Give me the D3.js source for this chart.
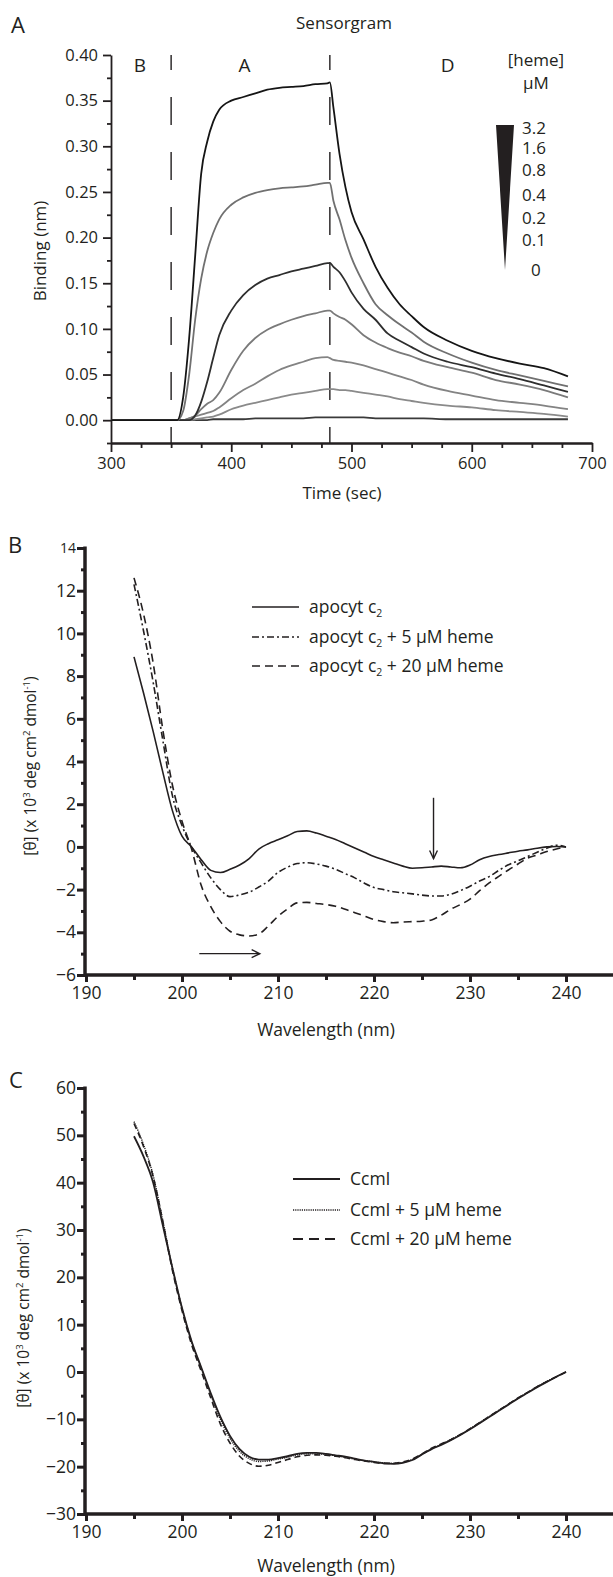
<!DOCTYPE html>
<html><head><meta charset="utf-8">
<script src="https://cdn.jsdelivr.net/npm/d3@7"></script>
<style>
body{margin:0;background:#fff;}
svg text{font-family:"Open Sans",sans-serif;fill:#231f20;}
</style></head>
<body><svg id="c" width="613" height="1577"></svg>
<script>
// ---------- Panel A data (sensorgram) ----------
const hemeLevels = ["3.2","1.6","0.8","0.4","0.2","0.1","0"];
const timeA = [300,355,360,365,370,375,380,385,390,400,410,420,430,440,450,460,470,480,482,485,490,495,500,510,520,530,540,550,560,580,600,620,640,660,680];
const bind32 = [0,0,0.025,0.09,0.18,0.27,0.305,0.327,0.34,0.35,0.354,0.358,0.362,0.364,0.365,0.366,0.368,0.369,0.37,0.342,0.292,0.255,0.228,0.198,0.168,0.145,0.127,0.114,0.102,0.087,0.076,0.068,0.062,0.057,0.048];
const bind16 = [0,0,0.01,0.05,0.11,0.155,0.185,0.205,0.22,0.236,0.244,0.249,0.252,0.254,0.255,0.256,0.258,0.26,0.26,0.24,0.22,0.197,0.178,0.15,0.127,0.115,0.105,0.096,0.086,0.073,0.063,0.055,0.049,0.043,0.037];
const bind08 = [0,0,0,0,0.005,0.02,0.042,0.068,0.093,0.12,0.137,0.148,0.155,0.159,0.163,0.166,0.169,0.172,0.172,0.168,0.162,0.152,0.14,0.122,0.11,0.095,0.087,0.08,0.073,0.064,0.058,0.051,0.045,0.038,0.031];
const bind04 = [0,0,0,0.002,0.005,0.012,0.018,0.022,0.03,0.055,0.076,0.09,0.099,0.105,0.11,0.114,0.117,0.12,0.12,0.117,0.113,0.11,0.105,0.093,0.085,0.079,0.074,0.07,0.065,0.058,0.052,0.044,0.039,0.033,0.025];
const bind02 = [0,0,0,0.002,0.004,0.006,0.008,0.01,0.014,0.024,0.033,0.04,0.048,0.055,0.06,0.064,0.068,0.069,0.068,0.066,0.065,0.064,0.063,0.06,0.056,0.052,0.048,0.044,0.039,0.032,0.027,0.022,0.019,0.016,0.012];
const bind01 = [0,0,0,0,0.001,0.002,0.003,0.004,0.006,0.012,0.016,0.019,0.022,0.025,0.028,0.03,0.032,0.034,0.034,0.034,0.033,0.033,0.032,0.03,0.028,0.026,0.023,0.021,0.019,0.016,0.014,0.011,0.009,0.007,0.004];
const bind00 = [0,0,0,0,0,0,0,0.001,0.001,0.001,0.001,0.002,0.002,0.002,0.002,0.002,0.003,0.003,0.003,0.003,0.003,0.003,0.003,0.003,0.002,0.002,0.002,0.002,0.002,0.001,0.001,0.001,0.001,0.001,0.001];
const phaseLabels = ["B","A","D"];
const phaseTimes = [324,411,580];
const phaseBounds = [350,482];
const xTicksA = [300,400,500,600,700];
const yTicksA = [0,0.05,0.1,0.15,0.2,0.25,0.3,0.35,0.4];

// ---------- Panel B data (CD apocyt c2) ----------
const wl = [195,196,197,198,199,200,201,202,203,204,205,206,207,208,209,210,211,212,213,214,215,216,217,218,219,220,221,222,223,224,225,226,227,228,229,230,231,232,233,234,235,236,237,238,239,240];
const apo = [8.9,7.2,5.4,3.5,1.7,0.5,0.0,-0.6,-1.1,-1.2,-1.05,-0.85,-0.55,-0.1,0.15,0.33,0.52,0.72,0.75,0.65,0.5,0.35,0.15,-0.05,-0.25,-0.45,-0.6,-0.75,-0.9,-1.0,-0.98,-0.94,-0.9,-0.94,-0.98,-0.85,-0.6,-0.45,-0.36,-0.28,-0.2,-0.14,-0.06,0.0,0.02,0.0];
const apo5 = [12.3,10.1,7.7,5.0,2.4,1.0,0.0,-0.75,-1.45,-2.0,-2.33,-2.25,-2.12,-1.88,-1.6,-1.2,-0.95,-0.78,-0.74,-0.8,-0.9,-1.05,-1.25,-1.45,-1.7,-1.9,-2.0,-2.1,-2.15,-2.2,-2.26,-2.3,-2.3,-2.22,-2.05,-1.84,-1.6,-1.39,-1.1,-0.84,-0.65,-0.45,-0.25,-0.06,0.08,0.0];
const apo20 = [12.6,10.9,8.6,5.5,2.9,1.2,-0.1,-1.8,-2.8,-3.5,-3.95,-4.12,-4.17,-4.08,-3.7,-3.25,-2.9,-2.62,-2.6,-2.65,-2.7,-2.78,-2.92,-3.08,-3.24,-3.4,-3.5,-3.55,-3.52,-3.5,-3.48,-3.42,-3.2,-2.92,-2.7,-2.45,-2.05,-1.69,-1.38,-1.08,-0.8,-0.53,-0.38,-0.22,-0.1,0.0];
const legendB = ["", " + 5 μM heme", " + 20 μM heme"];
const yTicksB = [-6,-4,-2,0,2,4,6,8,10,12,14];
const xTicksCD = [190,200,210,220,230,240];

// ---------- Panel C data (CD CcmI) ----------
const ccm = [49.8,45.5,40.0,31.0,22.0,13.5,6.5,1.0,-4.5,-9.5,-13.5,-16.3,-17.9,-18.5,-18.5,-18.2,-17.8,-17.3,-17.1,-17.1,-17.3,-17.6,-17.9,-18.3,-18.7,-19.0,-19.3,-19.4,-19.2,-18.6,-17.4,-16.3,-15.4,-14.4,-13.3,-12.1,-10.8,-9.5,-8.2,-6.9,-5.6,-4.4,-3.2,-2.1,-1.0,0.0];
const ccm5 = [52.9,48.0,41.5,32.0,22.0,13.5,6.3,0.8,-4.8,-10.0,-14.0,-16.8,-18.3,-18.9,-18.8,-18.4,-18.0,-17.5,-17.3,-17.3,-17.4,-17.7,-18.0,-18.4,-18.7,-19.0,-19.2,-19.3,-19.1,-18.5,-17.4,-16.2,-15.3,-14.3,-13.2,-12.0,-10.7,-9.4,-8.1,-6.8,-5.5,-4.3,-3.1,-2.0,-1.0,0.0];
const ccm20 = [52.5,47.6,41.2,31.8,21.5,13.0,5.8,0.2,-5.5,-11.0,-15.0,-17.8,-19.3,-19.9,-19.7,-19.1,-18.5,-17.9,-17.6,-17.5,-17.6,-17.8,-18.1,-18.5,-18.8,-19.1,-19.3,-19.3,-19.0,-18.4,-17.3,-16.1,-15.2,-14.3,-13.2,-12.0,-10.7,-9.4,-8.1,-6.8,-5.5,-4.3,-3.1,-2.0,-1.0,0.0];
const legendC = ["CcmI", "CcmI + 5 μM heme", "CcmI + 20 μM heme"];
const yTicksC = [-30,-20,-10,0,10,20,30,40,50,60];

const svg = d3.select("#c");
const ink = "#231f20";

// ================= PANEL A =================
const xA = d3.scaleLinear().domain([300,700]).range([111,592]);
const yA = d3.scaleLinear().domain([-0.025,0.40]).range([443,55]);

svg.append("text").attr("x",11).attr("y",33).attr("font-size",22).text("A");
svg.append("text").attr("x",344).attr("y",29).attr("font-size",17).attr("text-anchor","middle").text("Sensorgram");

function styleAxis(g, w){
  g.selectAll("path.domain").attr("stroke",ink).attr("stroke-width",w);
  g.selectAll(".tick line").attr("stroke",ink).attr("stroke-width",w);
}
// x axis A
const gxA = svg.append("g").attr("transform","translate(0,443)")
  .call(d3.axisBottom(xA).tickValues(xTicksA).tickSize(9).tickPadding(5).tickSizeOuter(0));
styleAxis(gxA,1.8);
gxA.selectAll("text").attr("font-size",16.5).attr("fill",ink).style("font-family","'Open Sans',sans-serif");
const gxAm = svg.append("g").attr("transform","translate(0,443)")
  .call(d3.axisBottom(xA).tickValues(d3.range(325,700,25).filter(v=>v%100!==0)).tickSize(5).tickFormat("").tickSizeOuter(0));
styleAxis(gxAm,1.8);
// y axis A
const gyA = svg.append("g").attr("transform","translate(111,0)")
  .call(d3.axisLeft(yA).tickValues(yTicksA).tickSize(8).tickPadding(5).tickFormat(d3.format(".2f")).tickSizeOuter(0));
styleAxis(gyA,1.8);
gyA.selectAll("text").attr("font-size",16.5).attr("fill",ink).style("font-family","'Open Sans',sans-serif");
const gyAm = svg.append("g").attr("transform","translate(111,0)")
  .call(d3.axisLeft(yA).tickValues([-0.025,0.025,0.075,0.125,0.175,0.225,0.275,0.325,0.375]).tickSize(4).tickFormat("").tickSizeOuter(0));
styleAxis(gyAm,1.8);
gyAm.select("path.domain").remove();

svg.append("text").attr("transform","translate(46,251) rotate(-90)").attr("font-size",17).attr("text-anchor","middle").text("Binding (nm)");
svg.append("text").attr("x",342).attr("y",499).attr("font-size",17).attr("text-anchor","middle").text("Time (sec)");

// phase boundaries
phaseBounds.forEach(t=>{
  svg.append("line").attr("x1",xA(t)).attr("x2",xA(t)).attr("y1",55).attr("y2",443)
    .attr("stroke",ink).attr("stroke-width",1.4).attr("stroke-dasharray","28,27").attr("stroke-dashoffset",13);
});
phaseLabels.forEach((l,i)=>{
  svg.append("text").attr("x",xA(phaseTimes[i])).attr("y",72).attr("font-size",19).attr("text-anchor","middle").text(l);
});

const seriesA = [bind00,bind01,bind02,bind04,bind08,bind16,bind32];
const colA = ["#3a3a3a","#8a8a8a","#838383","#7a7a7a","#2e2e2e","#707070","#151515"];
const lineA = d3.line().x((d,i)=>xA(timeA[i])).y(d=>yA(d)).curve(d3.curveMonotoneX);
seriesA.forEach((s,k)=>{
  svg.append("path").attr("d",lineA(s)).attr("fill","none").attr("stroke",colA[k]).attr("stroke-width",1.8);
});

// legend A
svg.append("text").attr("x",536).attr("y",66).attr("font-size",17).attr("text-anchor","middle").text("[heme]");
svg.append("text").attr("x",536).attr("y",89).attr("font-size",17).attr("text-anchor","middle").text("μM");
svg.append("polygon").attr("points","496,125 514,125 505,270").attr("fill","#231f20");
const legY = [128,148,170,195,218,240,270];
hemeLevels.forEach((h,i)=>{
  svg.append("text").attr("x", h==="0"?531:522).attr("y",legY[i]+6).attr("font-size",17).text(h);
});

// ================= CD panels helper =================
function cdAxes(x, y, yTicks, yMinor, yTop, xTitleY){
  const y0 = y.range()[0];
  const gx = svg.append("g").attr("transform",`translate(0,${y0})`)
    .call(d3.axisBottom(x).tickValues(xTicksCD).tickSize(7).tickPadding(5).tickSizeOuter(0));
  gx.select("path.domain").remove();
  gx.selectAll(".tick line").attr("stroke",ink).attr("stroke-width",3);
  gx.selectAll("text").attr("font-size",17.5).attr("fill",ink).style("font-family","'Open Sans',sans-serif");
  const gxm = svg.append("g").attr("transform",`translate(0,${y0})`)
    .call(d3.axisBottom(x).tickValues(d3.range(195,246,10)).tickSize(5).tickFormat("").tickSizeOuter(0));
  gxm.select("path.domain").remove();
  gxm.selectAll(".tick line").attr("stroke",ink).attr("stroke-width",3);
  svg.append("line").attr("x1",x(190)-2).attr("x2",613).attr("y1",y0).attr("y2",y0).attr("stroke",ink).attr("stroke-width",3.5);
  const gy = svg.append("g").attr("transform",`translate(${x(190)-1},0)`)
    .call(d3.axisLeft(y).tickValues(yTicks).tickSize(8).tickPadding(1).tickSizeOuter(0));
  gy.select("path.domain").remove();
  gy.selectAll(".tick line").attr("stroke",ink).attr("stroke-width",3);
  gy.selectAll("text").attr("font-size",17.5).attr("fill",ink).style("font-family","'Open Sans',sans-serif");
  const gym = svg.append("g").attr("transform",`translate(${x(190)-1},0)`)
    .call(d3.axisLeft(y).tickValues(yMinor).tickSize(4).tickFormat("").tickSizeOuter(0));
  gym.select("path.domain").remove();
  gym.selectAll(".tick line").attr("stroke",ink).attr("stroke-width",3);
  svg.append("line").attr("x1",x(190)-1).attr("x2",x(190)-1).attr("y1",y0+1.5).attr("y2",yTop-1.5).attr("stroke",ink).attr("stroke-width",3.5);
  svg.append("text").attr("x",(x(190)+x(240))/2).attr("y",xTitleY).attr("font-size",17.5).attr("text-anchor","middle").text("Wavelength (nm)");
  return gy;
}
function thetaLabel(cx, cy){
  const t = svg.append("text").attr("transform",`translate(${cx},${cy}) rotate(-90)`).attr("font-size",15.5).attr("text-anchor","middle");
  t.append("tspan").text("[θ] (x 10");
  t.append("tspan").attr("font-size",9.5).attr("dy",-6).text("3");
  t.append("tspan").attr("dy",6).text(" deg cm");
  t.append("tspan").attr("font-size",9.5).attr("dy",-6).text("2");
  t.append("tspan").attr("dy",6).text(" dmol");
  t.append("tspan").attr("font-size",9.5).attr("dy",-6).text("-1");
  t.append("tspan").attr("dy",6).text(")");
}

// ================= PANEL B =================
const xB = d3.scaleLinear().domain([190,240]).range([86,566]);
const yB = d3.scaleLinear().domain([-6,14]).range([975,548]);
svg.append("text").attr("x",8).attr("y",553).attr("font-size",22).text("B");
const gyB = cdAxes(xB, yB, yTicksB, d3.range(-5,14,2), yB(14), 1036);
gyB.selectAll(".tick text").filter(d=>d===14).attr("font-size",14);
thetaLabel(36, 766);

const lineB = d3.line().x((d,i)=>xB(wl[i])).y(d=>yB(d)).curve(d3.curveMonotoneX);
svg.append("path").attr("d",lineB(apo)).attr("fill","none").attr("stroke",ink).attr("stroke-width",1.6);
svg.append("path").attr("d",lineB(apo5)).attr("fill","none").attr("stroke",ink).attr("stroke-width",1.6).attr("stroke-dasharray","7,3,2,3");
svg.append("path").attr("d",lineB(apo20)).attr("fill","none").attr("stroke",ink).attr("stroke-width",1.6).attr("stroke-dasharray","8,5");

function arrow(x1,y1,x2,y2){
  svg.append("line").attr("x1",x1).attr("y1",y1).attr("x2",x2).attr("y2",y2).attr("stroke",ink).attr("stroke-width",1.4);
  const a = Math.atan2(y2-y1,x2-x1), L=9, s=0.45;
  const p = d3.path();
  p.moveTo(x2-L*Math.cos(a-s), y2-L*Math.sin(a-s)); p.lineTo(x2,y2); p.lineTo(x2-L*Math.cos(a+s), y2-L*Math.sin(a+s));
  svg.append("path").attr("d",p.toString()).attr("fill","none").attr("stroke",ink).attr("stroke-width",1.4);
}
arrow(xB(226.2), yB(2.3), xB(226.2), yB(-0.55));
arrow(xB(201.8), yB(-5.0), xB(208.1), yB(-5.0));

const legBy = [607,637,666];
const dashB = [null,"7,3,2,3","8,5"];
legendB.forEach((l,i)=>{
  const ln = svg.append("line").attr("x1",252).attr("x2",299).attr("y1",legBy[i]).attr("y2",legBy[i]).attr("stroke",ink).attr("stroke-width",1.6);
  if(dashB[i]) ln.attr("stroke-dasharray",dashB[i]);
  const t = svg.append("text").attr("x",309).attr("y",legBy[i]+6).attr("font-size",17.5);
  t.append("tspan").text("apocyt c");
  t.append("tspan").attr("font-size",10.5).attr("dy",4).text("2");
  if(l) t.append("tspan").attr("dy",-4).text(l);
});

// ================= PANEL C =================
const xC = d3.scaleLinear().domain([190,240]).range([86,566]);
const yC = d3.scaleLinear().domain([-30,60]).range([1514,1088]);
svg.append("text").attr("x",9).attr("y",1088).attr("font-size",22).text("C");
cdAxes(xC, yC, yTicksC, d3.range(-25,60,10), yC(60), 1572);
thetaLabel(29, 1318);

const lineC = d3.line().x((d,i)=>xC(wl[i])).y(d=>yC(d)).curve(d3.curveMonotoneX);
svg.append("path").attr("d",lineC(ccm20)).attr("fill","none").attr("stroke",ink).attr("stroke-width",1.6).attr("stroke-dasharray","6,4");
svg.append("path").attr("d",lineC(ccm5)).attr("fill","none").attr("stroke",ink).attr("stroke-width",1.4).attr("stroke-dasharray","1.2,1");
svg.append("path").attr("d",lineC(ccm)).attr("fill","none").attr("stroke",ink).attr("stroke-width",1.8);

const legCy = [1179,1210,1239];
const dashC = [null,"1.2,1","10,6"];
legendC.forEach((l,i)=>{
  const ln = svg.append("line").attr("x1",293).attr("x2",340).attr("y1",legCy[i]).attr("y2",legCy[i]).attr("stroke",ink).attr("stroke-width",i===1?1.4:1.8);
  if(dashC[i]) ln.attr("stroke-dasharray",dashC[i]);
  svg.append("text").attr("x",350).attr("y",legCy[i]+6).attr("font-size",17.5).text(l);
});
</script></body></html>
